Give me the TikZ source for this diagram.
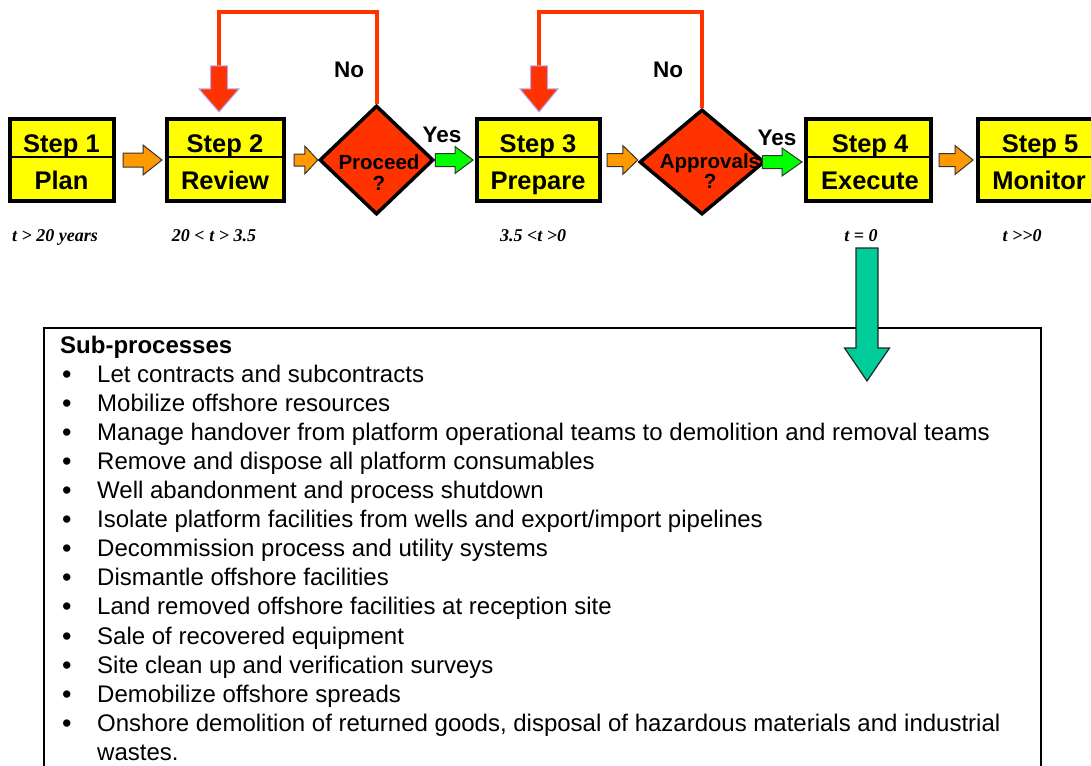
\documentclass[tikz,border=0pt]{standalone}
\usepackage{fontspec}
\setmainfont{Liberation Sans}
\newfontfamily\timesfont{Liberation Serif}
\usetikzlibrary{shapes.geometric,calc}
\definecolor{stepyellow}{HTML}{FFFF00}
\definecolor{decred}{HTML}{FF3300}
\definecolor{arrorange}{HTML}{FF9900}
\definecolor{arrgreen}{HTML}{00FF00}
\definecolor{arrteal}{HTML}{00CC99}
\definecolor{lavender}{HTML}{B4AAFF}
% horizontal block arrow: style, from, to, shaft half, head half, head length
\newcommand\harrow[6]{\path[#1] let \p1=(#2), \p2=(#3) in
  (\x1,\y1+#4) -- (\x2-#6,\y1+#4) -- (\x2-#6,\y1+#5) -- (\x2,\y1) --
  (\x2-#6,\y1-#5) -- (\x2-#6,\y1-#4) -- (\x1,\y1-#4) -- cycle;}
% downward block arrow: style, from, to, shaft half, head half, head length
\newcommand\varrow[6]{\path[#1] let \p1=(#2), \p2=(#3) in
  (\x1-#4,\y1) -- (\x1-#4,\y2+#6) -- (\x1-#5,\y2+#6) -- (\x1,\y2) --
  (\x1+#5,\y2+#6) -- (\x1+#4,\y2+#6) -- (\x1+#4,\y1) -- cycle;}
\newcommand\bul{\hspace*{2pt}\raisebox{-1pt}{\fontsize{27}{27}\selectfont\textbullet}}
\begin{document}
\begin{tikzpicture}[x=1pt,y=-1pt,
  stepbox/.style={draw=black,line width=4pt,fill=stepyellow,inner sep=0pt,minimum height=82pt},
  steptext/.style={font=\bfseries\fontsize{25.5}{30}\selectfont,inner sep=0pt,anchor=base},
  decision/.style={diamond,draw=black,line width=3.5pt,fill=decred,inner sep=0pt},
  dectext/.style={font=\bfseries\fontsize{20.5}{24}\selectfont,inner sep=0pt,anchor=base},
  lbl/.style={font=\bfseries\fontsize{22.5}{26}\selectfont,inner sep=0pt,anchor=base},
  timetext/.style={font=\timesfont\bfseries\itshape\fontsize{18}{22}\selectfont,inner sep=0pt,anchor=base},
  redline/.style={draw=decred,line width=4pt},
  orangearrow/.style={fill=arrorange,draw=black!80,line width=1pt},
  greenarrow/.style={fill=arrgreen,draw=black!80,line width=1pt},
  redarrow/.style={fill=decred,draw=lavender,line width=1pt},
  tealarrow/.style={fill=arrteal,draw=black!85,line width=1.2pt}]
\useasboundingbox (0,0) rectangle (1091,765);
\clip (0,0) rectangle (1091,765);

% feedback loops
\coordinate (r1top) at (219,12);
\coordinate (r1s) at (219,66);
\coordinate (r2top) at (539,12);
\coordinate (r2s) at (539,66);

% sub-process box
\node[draw=black,line width=2pt,anchor=north west,minimum width=997pt,minimum height=470pt,inner sep=0pt] (subbox) at (43,327) {};

% steps
\node[stepbox,minimum width=104pt] (s1) at (62,160) {};
\node[stepbox,minimum width=117pt] (s2) at (225.5,160) {};
\node[stepbox,minimum width=123pt] (s3) at (538.5,160) {};
\node[stepbox,minimum width=125pt] (s4) at (868.5,160) {};
\node[stepbox,minimum width=124pt] (s5) at (1040,160) {};
\foreach \s in {s1,s2,s3,s4,s5}{
  \draw[line width=1.2pt] ([yshift=3pt]\s.west) -- ([yshift=3pt]\s.east);}

% decisions
\node[decision,minimum width=114pt,minimum height=109pt] (d1) at (376.5,160) {};
\node[decision,minimum width=125pt,minimum height=105pt] (d2) at (702,162) {};

\draw[redline] (d1.north) |- (r1top) -- (r1s);
\draw[redline] (d2.north) |- (r2top) -- (r2s);
\varrow{redarrow}{r1s}{[yshift=5pt]s2.north}{8.5pt}{20pt}{23pt}
\varrow{redarrow}{r2s}{[yshift=5pt]s3.north}{8.5pt}{19pt}{23pt}

% connectors
\harrow{orangearrow}{[xshift=7pt]s1.east}{[xshift=-3pt]s2.west}{7pt}{15pt}{19pt}
\harrow{orangearrow}{[xshift=8pt]s2.east}{d1.west}{6pt}{14pt}{13pt}
\harrow{greenarrow}{d1.east}{[xshift=-2pt]s3.west}{6.5pt}{13.5pt}{18pt}
\harrow{orangearrow}{[xshift=5pt]s3.east}{d2.west}{6.5pt}{14.5pt}{15pt}
\harrow{greenarrow}{[xshift=-4pt]d2.east}{[xshift=-2pt]s4.west}{6.5pt}{14pt}{20pt}
\harrow{orangearrow}{[xshift=6pt]s4.east}{[xshift=-3pt]s5.west}{6.5pt}{14.5pt}{18pt}

% step texts
\node[steptext] (s1a) at (61.5,152) {Step 1};
\node[steptext] (s1b) at (61.5,189) {Plan};
\node[steptext] (s2a) at (225,152) {Step 2};
\node[steptext] (s2b) at (225,189) {Review};
\node[steptext] (s3a) at (538,152) {Step 3};
\node[steptext] (s3b) at (538,189) {Prepare};
\node[steptext] (s4a) at (870,152) {Step 4};
\node[steptext] (s4b) at (870,189) {Execute};
\node[steptext] (s5a) at (1040,152) {Step 5};
\node[steptext] (s5b) at (1039,189) {Monitor};

% decision texts
\node[dectext] (d1a) at (379,169) {Proceed};
\node[dectext] (d1b) at (379,190) {?};
\node[dectext] (d2a) at (710,168) {Approvals};
\node[dectext] (d2b) at (710,188) {?};

% labels
\node[lbl] (no1) at (349,78) {No};
\node[lbl] (no2) at (668,78) {No};
\node[lbl] (yes1) at (442,142) {Yes};
\node[lbl] (yes2) at (777,146) {Yes};

% time labels
\node[timetext] (t1) at (55,241) {t > 20 years};
\node[timetext] (t2) at (214,241) {20 < t > 3.5};
\node[timetext] (t3) at (533,241) {3.5 <t >0};
\node[timetext] (t4) at (861,241) {t = 0};
\node[timetext] (t5) at (1022,241) {t >>0};

% sub-process list
\node[anchor=base west,inner sep=0pt,font=\fontsize{24}{29.1}\selectfont] (list) at (60,353) {%
\begin{tabular}[t]{@{}p{37pt}@{}l@{}}
\multicolumn{2}{@{}l@{}}{\bfseries Sub-processes}\\
\bul & Let contracts and subcontracts\\
\bul & Mobilize offshore resources\\
\bul & Manage handover from platform operational teams to demolition and removal teams\\
\bul & Remove and dispose all platform consumables\\
\bul & Well abandonment and process shutdown\\
\bul & Isolate platform facilities from wells and export/import pipelines\\
\bul & Decommission process and utility systems\\
\bul & Dismantle offshore facilities\\
\bul & Land removed offshore facilities at reception site\\
\bul & Sale of recovered equipment\\
\bul & Site clean up and verification surveys\\
\bul & Demobilize offshore spreads\\
\bul & Onshore demolition of returned goods, disposal of hazardous materials and industrial\\
 & wastes.
\end{tabular}};

% execute detail arrow
\coordinate (exectop) at (867,248);
\coordinate (execend) at (867,381);
\varrow{tealarrow}{exectop}{execend}{11pt}{22.5pt}{33pt}
\end{tikzpicture}
\end{document}
